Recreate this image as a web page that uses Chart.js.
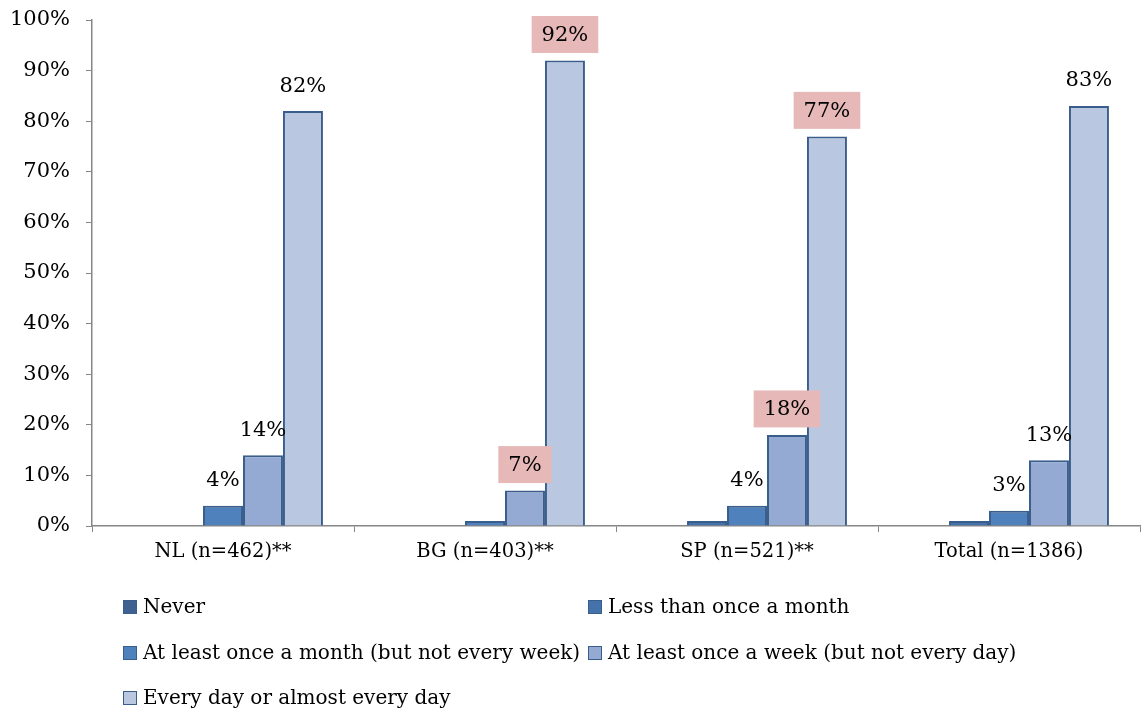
<!DOCTYPE html>
<html>
<head>
<meta charset="utf-8">
<title>Frequency by country</title>
<script src="https://cdn.jsdelivr.net/npm/chart.js@4/dist/chart.umd.min.js"></script>
<style>
  html, body { margin: 0; padding: 0; background: #fff; }
  #wrap { position: relative; width: 1141px; height: 708px; }
</style>
</head>
<body>
<div id="wrap"><canvas id="c"></canvas></div>
<script>
// Categories (countries) and the answer options
const categories = ['NL (n=462)**', 'BG (n=403)**', 'SP (n=521)**', 'Total (n=1386)'];
const seriesNames = [
  'Never',
  'Less than once a month',
  'At least once a month (but not every week)',
  'At least once a week (but not every day)',
  'Every day or almost every day'
];

// Percentages per answer option, one value per category
const never        = [0, 0, 0, 0];
const lessMonthly  = [0, 0, 1, 1];
const monthly      = [4, 1, 4, 3];
const weekly       = [14, 7, 18, 13];
const daily        = [82, 92, 77, 83];

// Labels marked as significant get a shaded box
const weeklyHighlight = [false, true, true, false];
const dailyHighlight  = [false, true, true, false];

const yTicks = [0, 10, 20, 30, 40, 50, 60, 70, 80, 90, 100];

const FONT = '"DejaVu Serif", "Liberation Serif", serif';
const fills = ['#3F6192', '#4473AC', '#4F81BD', '#95AAD2', '#B9C7E0'];
const edge = '#3A5E8C';

const seriesValues = [never, lessMonthly, monthly, weekly, daily];
const highlights = [null, null, null, weeklyHighlight, dailyHighlight];

const datasets = seriesValues.map((vals, i) => ({
  label: seriesNames[i],
  data: vals,
  backgroundColor: fills[i],
  borderColor: edge,
  borderWidth: 2,
  borderSkipped: 'bottom',
  highlight: highlights[i],
  barPercentage: 1.0,
  categoryPercentage: 0.763
}));

// Value labels above bars, optionally on a pink box
const valueLabels = {
  id: 'valueLabels',
  afterDatasetsDraw(chart) {
    const ctx = chart.ctx;
    ctx.save();
    ctx.font = '21px ' + FONT;
    ctx.textAlign = 'center';
    ctx.textBaseline = 'middle';
    chart.data.datasets.forEach((ds, di) => {
      const meta = chart.getDatasetMeta(di);
      meta.data.forEach((el, i) => {
        const v = ds.data[i];
        if (v < 3) return;
        const txt = v + '%';
        const x = el.x;
        const y = el.y - 25;
        if (ds.highlight && ds.highlight[i]) {
          const w = ctx.measureText(txt).width + 20;
          const h = 37;
          ctx.fillStyle = '#E6B9B8';
          ctx.fillRect(x - w / 2, y - h / 2 - 1, w, h);
        }
        ctx.fillStyle = '#000';
        ctx.fillText(txt, x, y);
      });
    });
    ctx.restore();
  }
};

// Two-column legend below the axis
const gridLegend = {
  id: 'gridLegend',
  afterDraw(chart) {
    const ctx = chart.ctx;
    ctx.save();
    ctx.font = '20px ' + FONT;
    ctx.textBaseline = 'middle';
    ctx.textAlign = 'left';
    const colX = [123, 588];
    const rowY = [607, 653, 698];
    chart.data.datasets.forEach((ds, i) => {
      const x = colX[i % 2];
      const y = rowY[Math.floor(i / 2)];
      ctx.fillStyle = ds.backgroundColor;
      ctx.fillRect(x, y - 7, 14, 14);
      ctx.strokeStyle = edge;
      ctx.lineWidth = 1;
      ctx.strokeRect(x + 0.5, y - 6.5, 13, 13);
      ctx.fillStyle = '#000';
      ctx.fillText(ds.label, x + 20, y + 1);
    });
    ctx.restore();
  }
};

new Chart(document.getElementById('c'), {
  type: 'bar',
  data: { labels: categories, datasets },
  options: {
    responsive: true,
    maintainAspectRatio: false,
    animation: false,
    layout: { padding: { top: 20, right: 1, bottom: 140, left: 0 } },
    plugins: {
      legend: { display: false },
      tooltip: { enabled: false }
    },
    scales: {
      x: {
        offset: true,
        grid: { display: true, drawOnChartArea: false, drawTicks: true, tickLength: 6, color: '#868686', offset: true },
        border: { display: true, color: '#868686', width: 1.5 },
        ticks: { color: '#000', font: { family: FONT, size: 19.5 }, padding: 8, maxRotation: 0 },
        afterFit(s) { s.height = 42; s.paddingLeft = 0; s.paddingRight = 0; }
      },
      y: {
        min: 0,
        max: 100,
        afterBuildTicks(s) { s.ticks = yTicks.map(v => ({ value: v })); },
        grid: { display: true, drawOnChartArea: false, drawTicks: true, tickLength: 6, color: '#868686' },
        border: { display: true, color: '#868686', width: 1.5 },
        ticks: { color: '#000', font: { family: FONT, size: 21 }, padding: 16, callback: v => v + '%' },
        afterFit(s) { s.width = 92; s.paddingTop = 0; s.paddingBottom = 0; }
      }
    }
  },
  plugins: [valueLabels, gridLegend]
});
</script>
</body>
</html>
